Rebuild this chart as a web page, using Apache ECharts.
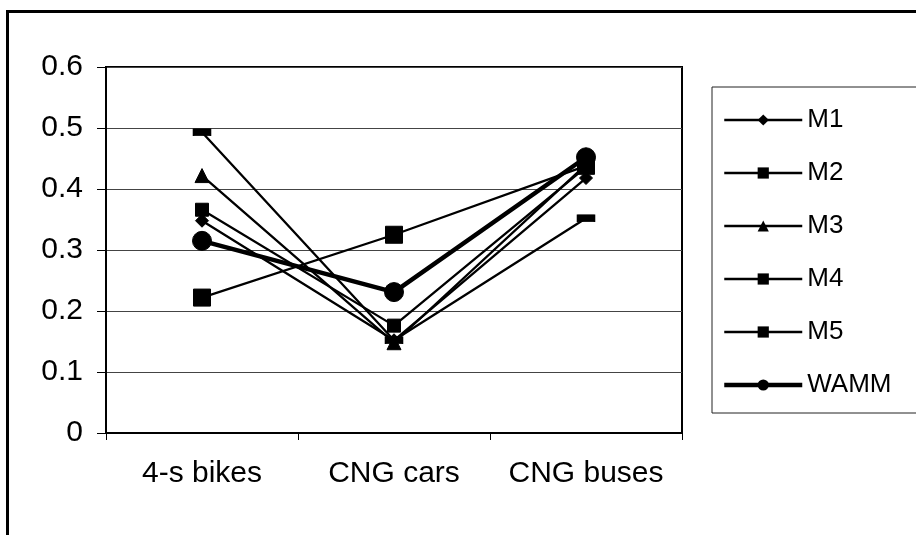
<!DOCTYPE html>
<html>
<head>
<meta charset="utf-8">
<script src="https://cdn.jsdelivr.net/npm/echarts@6/dist/echarts.min.js"></script>
<style>
html,body{margin:0;padding:0;background:#fff;}
#chart{width:916px;height:535px;}
</style>
</head>
<body>
<div id="chart"></div>
<script>
// ---- data ----
var categories = ['4-s bikes', 'CNG cars', 'CNG buses'];
var seriesNames = ['M1', 'M2', 'M3', 'M4', 'M5', 'WAMM'];
var M1 = [0.348, 0.152, 0.418];
var M2 = [0.366, 0.176, 0.436];
var M3 = [0.422, 0.148, 0.440];
var M4 = [0.222, 0.325, 0.438];
var M5 = [0.493, 0.152, 0.352];
var WAMM = [0.315, 0.231, 0.452];
var yMin = 0, yMax = 0.6, yStep = 0.1;

var values = [M1, M2, M3, M4, M5, WAMM];
var styles = [
  {symbol: 'diamond', size: 13, width: 2.3},
  {symbol: 'rect', size: 13, width: 2.3},
  {symbol: 'triangle', size: 14, width: 2.3},
  {symbol: 'rect', size: 17, width: 2.3},
  {symbol: 'rect', size: [17, 7], width: 2.3},
  {symbol: 'circle', size: 19, width: 4.5}
];

var font = '"Liberation Sans", Arial, sans-serif';
var chart = echarts.init(document.getElementById('chart'), null, {renderer: 'canvas'});

var series = seriesNames.map(function (name, i) {
  return {
    name: name,
    type: 'line',
    data: values[i],
    symbol: styles[i].symbol,
    symbolSize: styles[i].size,
    showAllSymbol: true,
    itemStyle: {color: '#000', borderColor: '#000'},
    lineStyle: {color: '#000', width: styles[i].width},
    emphasis: {disabled: true},
    z: 2 + i
  };
});

var legendData = seriesNames.map(function (name, i) {
  return {
    name: name,
    lineStyle: {color: '#000', width: styles[i].width},
    itemStyle: {color: '#000'}
  };
});

chart.setOption({
  animation: false,
  backgroundColor: '#fff',
  graphic: [{
    type: 'rect',
    shape: {x: 7.5, y: 11.5, width: 930, height: 560},
    style: {fill: 'none', stroke: '#000', lineWidth: 3},
    silent: true
  }],
  grid: {
    left: 106, top: 67, right: 234, bottom: 102,
    show: true, borderColor: '#000', borderWidth: 2, backgroundColor: 'transparent'
  },
  legend: {
    orient: 'vertical',
    left: 712, top: 87,
    width: 203,
    padding: [20, 40, 15, 10],
    itemWidth: 78, itemHeight: 14,
    itemGap: 27,
    borderColor: '#222', borderWidth: 1,
    textStyle: {fontFamily: font, fontSize: 26, color: '#000', lineHeight: 26},
    data: legendData
  },
  xAxis: {
    type: 'category',
    data: categories,
    boundaryGap: true,
    axisLine: {lineStyle: {color: '#000', width: 2}},
    axisTick: {show: true, length: 7, lineStyle: {color: '#000', width: 1}},
    axisLabel: {fontFamily: font, fontSize: 30, color: '#000', margin: 26, interval: 0, hideOverlap: false},
    splitLine: {show: false}
  },
  yAxis: {
    type: 'value',
    min: yMin, max: yMax, interval: yStep,
    axisLine: {show: true, lineStyle: {color: '#000', width: 2}},
    axisTick: {show: true, length: 9, lineStyle: {color: '#000', width: 1}},
    axisLabel: {fontFamily: font, fontSize: 30, color: '#000', margin: 23},
    splitLine: {show: true, lineStyle: {color: '#444', width: 1}}
  },
  series: series
});
</script>
</body>
</html>
